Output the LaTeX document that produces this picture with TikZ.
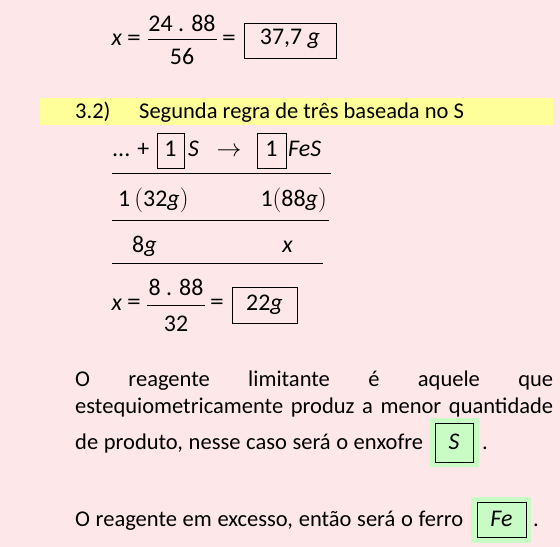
\documentclass[tikz,border=0pt]{standalone}
\usepackage{fontspec}
\setmainfont{Carlito}
\usetikzlibrary{positioning}
\definecolor{rosa}{RGB}{253,231,233}
\definecolor{amarelo}{RGB}{255,255,153}
\definecolor{verde}{RGB}{200,252,196}

\begin{document}
\begin{tikzpicture}[x=1bp,y=-1bp,
  texto/.style={inner sep=0pt,anchor=base west,font=\fontsize{22.6}{26}\selectfont},
  eq/.style={inner sep=0pt,anchor=base,font=\fontsize{24}{28}\selectfont},
  caixa/.style={draw,line width=0.9bp,inner sep=0pt},
  regua/.style={line width=0.9bp}]

\useasboundingbox (0,0) rectangle (560,547);
\fill[rosa] (0,0) rectangle (560,547);

% x = 24.88/56 = 37,7 g
\node[eq] (x1) at (117,46) {\textit{x}};
\node[eq,anchor=center] (ig1) at (134,40) {\scalebox{1.15}[1]{=}};
\node[eq] (num1) at (182,31.7) {24 . 88};
\node[eq] (den1) at (182,65) {56};
\coordinate (b1a) at (148,39.5);
\coordinate (b1b) at (217,39.5);
\draw[regua] (b1a) -- (b1b);
\node[eq,anchor=center] (ig2) at (229,40) {\scalebox{1.15}[1]{=}};
\node[caixa,minimum width=92bp,minimum height=35bp] (r1) at (290,40.5) {};
\node[eq] (t1) at (290,45) {37,7 \textit{g}};

% titulo
\fill[amarelo] (40,98) rectangle (553,125);
\node[texto] (n32) at (75,119) {3.2)};
\node[texto] (tit) at (139,119) {Segunda regra de três baseada no S};

% reacao
\node[eq,anchor=base west] (pts) at (112,157) {... +};
\node[caixa,minimum width=27bp,minimum height=35bp] (c1) at (170.5,150.5) {};
\node[eq] (um1) at (170.5,157) {1};
\node[eq,anchor=base west] (s1) at (188,157) {\textit{S}};
\node[eq] (seta) at (229,157) {$\rightarrow$};
\node[caixa,minimum width=29bp,minimum height=35bp] (c2) at (271.5,150.5) {};
\node[eq] (um2) at (271.5,157) {1};
\node[eq,anchor=base west] (fes) at (288,157) {\textit{FeS}};
\coordinate (l1a) at (112,173);
\coordinate (l1b) at (331,173);
\draw[regua] (l1a) -- (l1b);

\node[eq,anchor=base west] (m1) at (118,207) {1$\,\Bigl($32\textit{g}$\Bigr)$};
\node[eq,anchor=base east] (m2) at (327,207) {1$\Bigl($88\textit{g}$\Bigr)$};
\coordinate (l2a) at (112,220);
\coordinate (l2b) at (329,220);
\draw[regua] (l2a) -- (l2b);

\node[eq,anchor=base west] (oito) at (132,252) {8\textit{g}};
\node[eq] (x2) at (287.5,252) {\textit{x}};
\coordinate (l3a) at (112,263);
\coordinate (l3b) at (323,263);
\draw[regua] (l3a) -- (l3b);

% x = 8.88/32 = 22g
\node[eq] (x3) at (117,310) {\textit{x}};
\node[eq,anchor=center] (ig3) at (134,304) {\scalebox{1.15}[1]{=}};
\node[eq] (num2) at (176,295) {8 . 88};
\node[eq] (den2) at (176,331) {32};
\coordinate (b2a) at (147,305);
\coordinate (b2b) at (205,305);
\draw[regua] (b2a) -- (b2b);
\node[eq,anchor=center] (ig4) at (217,304) {\scalebox{1.15}[1]{=}};
\node[caixa,minimum width=65bp,minimum height=36bp] (r2) at (264.5,305) {};
\node[eq] (t2) at (264.5,310) {22\textit{g}};

% paragrafo
\node[texto] (p1) at (75,386) {\makebox[478bp][s]{O reagente limitante é aquele que}};
\node[texto] (p2) at (75,413) {\makebox[478bp][s]{estequiometricamente produz a menor quantidade}};
\node[texto] (p3) at (75,449) {\makebox[348bp][s]{de produto, nesse caso será o enxofre}};
\fill[verde] (430,418) rectangle (479,467);
\node[caixa,minimum width=38bp,minimum height=39bp] (cs) at (454,442.5) {};
\node[eq] (ts) at (454,449) {\textit{S}};
\node[texto] (pt1) at (482,449) {.};

\node[texto] (p4) at (75,526) {\makebox[388bp][s]{O reagente em excesso, então será o ferro}};
\fill[verde] (471,497) rectangle (531,543);
\node[caixa,minimum width=49bp,minimum height=35bp] (cf) at (501.5,519.5) {};
\node[eq] (tf) at (501.5,526) {\textit{Fe}};
\node[texto] (pt2) at (533,526) {.};
\end{tikzpicture}
\end{document}
